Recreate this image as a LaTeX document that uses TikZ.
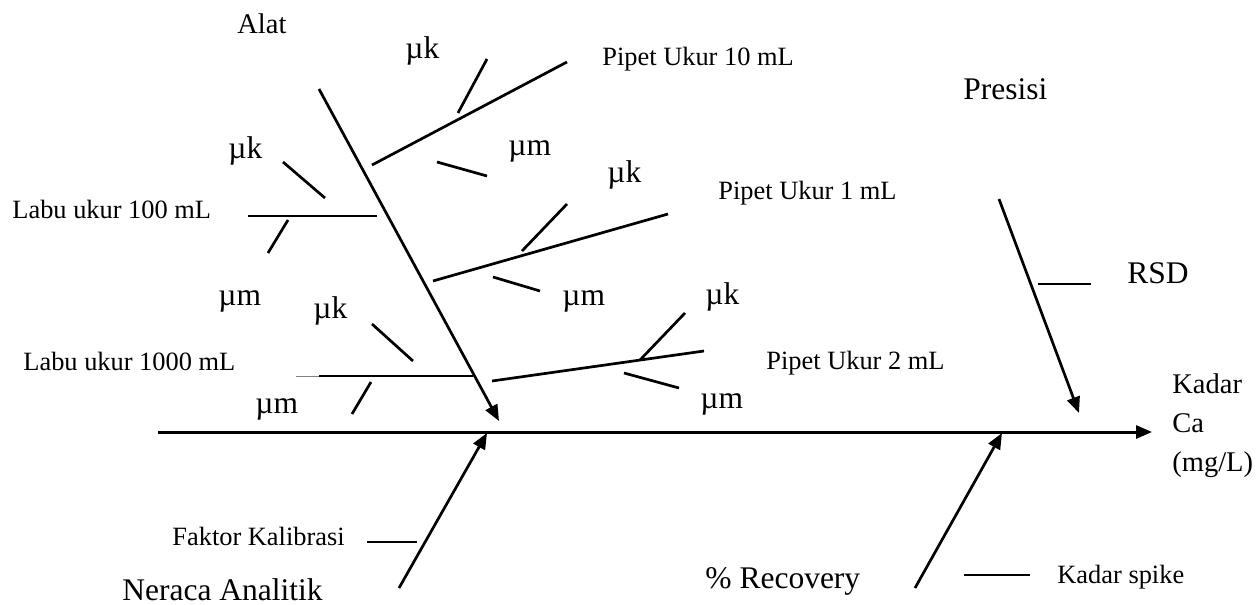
\documentclass[tikz,border=0pt]{standalone}
\usepackage{fontspec}
\setmainfont{Liberation Serif}
\usetikzlibrary{arrows.meta}
\begin{document}
\begin{tikzpicture}[x=0.5pt,y=-0.5pt,
  ln/.style={line width=1.35pt,black},
  spn/.style={line width=1.5pt,black},
  arr/.style={-{Triangle[length=8pt,width=6.5pt]}},
  big/.style={inner sep=0pt,anchor=base west,font=\fontsize{15.75}{18}\selectfont},
  mid/.style={inner sep=0pt,anchor=base west,font=\fontsize{14.25}{17}\selectfont},
  sml/.style={inner sep=0pt,anchor=base west,font=\fontsize{13.2}{16}\selectfont}]
\useasboundingbox (0,0) rectangle (1260,605);
% texts
\node[mid] (alat) at (237,33) {Alat};
\node[big] (mk1) at (405,58) {µk};
\node[sml] (p10) at (602,65) {Pipet Ukur 10 mL};
\node[big] (mm1) at (508,155) {µm};
\node[big] (mk2) at (607,182) {µk};
\node[big] (presisi) at (963,99) {Presisi};
\node[big] (mk3) at (228,158) {µk};
\node[sml] (l100) at (12,218) {Labu ukur 100 mL};
\node[sml] (p1) at (718,199) {Pipet Ukur 1 mL};
\node[big] (rsd) at (1127,283) {RSD};
\node[big] (mm2) at (218,305) {µm};
\node[big] (mk4) at (313,318) {µk};
\node[big] (mm3) at (562,305) {µm};
\node[big] (mk5) at (705,304) {µk};
\node[sml] (l1000) at (23,370) {Labu ukur 1000 mL};
\node[sml] (p2) at (766,369) {Pipet Ukur 2 mL};
\node[big] (mm4) at (255,413) {µm};
\node[big] (mm5) at (700,408) {µm};
\node[mid] (kadar) at (1172,393) {Kadar};
\node[mid] (ca) at (1172,432) {Ca};
\node[mid] (mgl) at (1172,471) {(mg/L)};
\node[sml] (fk) at (172,545) {Faktor Kalibrasi};
\node[big] (neraca) at (122,600) {Neraca Analitik};
\node[big] (rec) at (705,588) {\% Recovery};
\node[sml] (spike) at (1057,583) {Kadar spike};
% coordinates
\coordinate (s0) at (158,432); \coordinate (s1) at (1152,432);
\coordinate (a0) at (319,89); \coordinate (a1) at (499,421);
\coordinate (b0) at (372,165); \coordinate (b1) at (567,62);
\coordinate (b2) at (458,113); \coordinate (b3) at (487,59);
\coordinate (b4) at (437,162); \coordinate (b5) at (487,176);
\coordinate (c0) at (248,216); \coordinate (c1) at (377,216);
\coordinate (c2) at (283,162); \coordinate (c3) at (325,198);
\coordinate (c4) at (288,220); \coordinate (c5) at (268,253);
\coordinate (d0) at (433,281); \coordinate (d1) at (668,214);
\coordinate (d2) at (522,251); \coordinate (d3) at (567,204);
\coordinate (d4) at (493,277); \coordinate (d5) at (540,291);
\coordinate (e0) at (319,376); \coordinate (e1) at (473,376); \coordinate (e9) at (296,376);
\coordinate (e2) at (372,324); \coordinate (e3) at (413,361);
\coordinate (e4) at (371,382); \coordinate (e5) at (352,414);
\coordinate (f0) at (492,381); \coordinate (f1) at (704,351);
\coordinate (f2) at (640,360); \coordinate (f3) at (685,313);
\coordinate (f4) at (624,373); \coordinate (f5) at (679,388);
\coordinate (g0) at (999,199); \coordinate (g1) at (1079,413);
\coordinate (g2) at (1038,284); \coordinate (g3) at (1091,284);
\coordinate (h0) at (399,588); \coordinate (h1) at (487,433);
\coordinate (h2) at (367,542); \coordinate (h3) at (417,542);
\coordinate (k0) at (915,588); \coordinate (k1) at (1002,433);
\coordinate (k2) at (964,575); \coordinate (k3) at (1030,575);
% lines
\draw[spn,arr] (s0) -- (s1);
\draw[ln,arr] (a0) -- (a1);
\draw[ln] (b0) -- (b1); \draw[ln] (b2) -- (b3); \draw[ln] (b4) -- (b5);
\draw[ln] (c0) -- (c1); \draw[ln] (c2) -- (c3); \draw[ln] (c4) -- (c5);
\draw[ln] (d0) -- (d1); \draw[ln] (d2) -- (d3); \draw[ln] (d4) -- (d5);
\draw[line width=0.5pt,black!50] (e9) -- (e0);
\draw[ln] (e0) -- (e1); \draw[ln] (e2) -- (e3); \draw[ln] (e4) -- (e5);
\draw[ln] (f0) -- (f1); \draw[ln] (f2) -- (f3); \draw[ln] (f4) -- (f5);
\draw[ln,arr] (g0) -- (g1); \draw[ln] (g2) -- (g3);
\draw[ln,arr] (h0) -- (h1); \draw[ln] (h2) -- (h3);
\draw[ln,arr] (k0) -- (k1); \draw[ln] (k2) -- (k3);
\end{tikzpicture}
\end{document}
